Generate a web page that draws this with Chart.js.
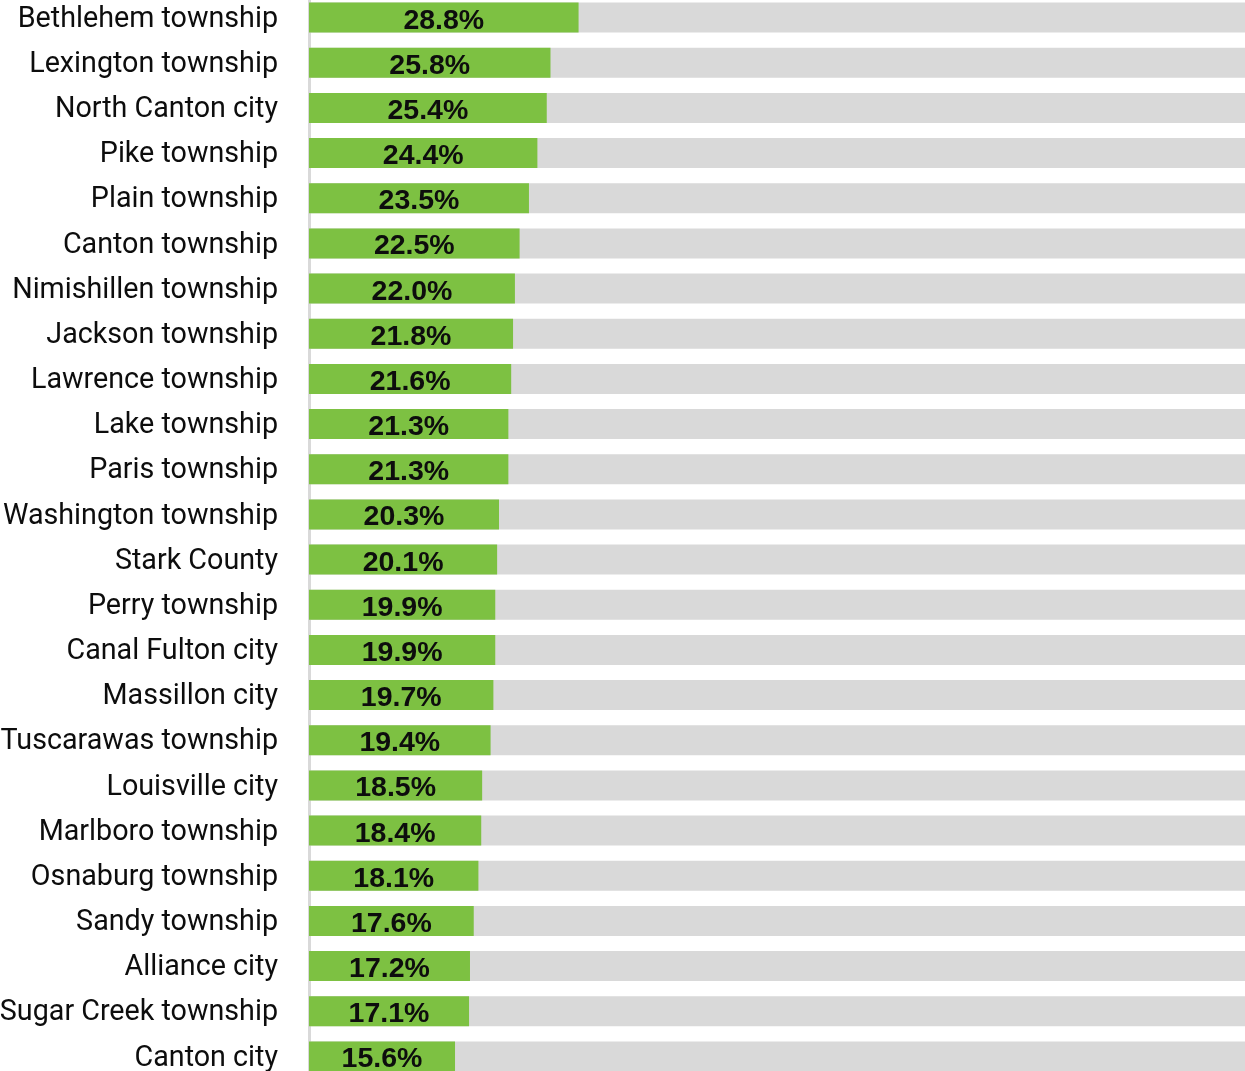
<!DOCTYPE html>
<html>
<head>
<meta charset="utf-8">
<script src="https://cdn.jsdelivr.net/npm/chart.js@4.4.1/dist/chart.umd.min.js"></script>
<style>
    html, body { margin: 0; padding: 0; background: #fff; overflow: hidden; }
    #wrap { position: absolute; left: 0; top: -5px; width: 1245px; height: 1084px; }
</style>
</head>
<body>
<div id="wrap"><canvas id="chart" width="1245" height="1084"></canvas></div>
<script>
const places = [
    'Bethlehem township', 'Lexington township', 'North Canton city', 'Pike township',
    'Plain township', 'Canton township', 'Nimishillen township', 'Jackson township',
    'Lawrence township', 'Lake township', 'Paris township', 'Washington township',
    'Stark County', 'Perry township', 'Canal Fulton city', 'Massillon city',
    'Tuscarawas township', 'Louisville city', 'Marlboro township', 'Osnaburg township',
    'Sandy township', 'Alliance city', 'Sugar Creek township', 'Canton city'
];
const shares = [
    28.8, 25.8, 25.4, 24.4, 23.5, 22.5, 22.0, 21.8, 21.6, 21.3, 21.3, 20.3,
    20.1, 19.9, 19.9, 19.7, 19.4, 18.5, 18.4, 18.1, 17.6, 17.2, 17.1, 15.6
];
const fullScale = 100;
const trackValues = places.map(() => fullScale);

const GREEN = '#7dc142';
const TRACK = '#d9d9d9';
const INK = '#0d0d0d';

// labels in the middle of each green bar
const barLabels = {
    id: 'barLabels',
    afterDatasetsDraw(chart) {
        const ctx = chart.ctx;
        const meta = chart.getDatasetMeta(0);
        ctx.save();
        ctx.font = 'bold 28.5px "Liberation Sans", Arial, sans-serif';
        ctx.fillStyle = INK;
        ctx.textAlign = 'center';
        ctx.textBaseline = 'alphabetic';
        meta.data.forEach((bar, i) => {
            const cx = (bar.base + bar.x) / 2;
            ctx.fillText(shares[i].toFixed(1) + '%', cx, bar.y + 11);
        });
        ctx.restore();
    }
};

new Chart(document.getElementById('chart'), {
    type: 'bar',
    data: {
        labels: places,
        datasets: [
            {
                data: shares,
                backgroundColor: GREEN,
                grouped: false,
                order: 0,
                categoryPercentage: 1,
                barPercentage: 0.664
            },
            {
                data: trackValues,
                backgroundColor: TRACK,
                grouped: false,
                order: 1,
                categoryPercentage: 1,
                barPercentage: 0.664
            }
        ]
    },
    options: {
        indexAxis: 'y',
        responsive: false,
        animation: false,
        devicePixelRatio: 1,
        layout: { padding: 0 },
        plugins: {
            legend: { display: false },
            tooltip: { enabled: false }
        },
        scales: {
            x: {
                display: false,
                min: 0,
                max: fullScale
            },
            y: {
                grid: { display: false, drawTicks: false },
                border: { display: true, color: TRACK, width: 3 },
                ticks: {
                    color: INK,
                    padding: 31,
                    labelOffset: 2,
                    autoSkip: false,
                    font: { family: 'Roboto', size: 28.7 }
                },
                afterFit(scale) {
                    scale.width = 309;
                    scale.paddingTop = 0;
                    scale.paddingBottom = 0;
                }
            }
        }
    },
    plugins: [barLabels]
});
</script>
</body>
</html>
